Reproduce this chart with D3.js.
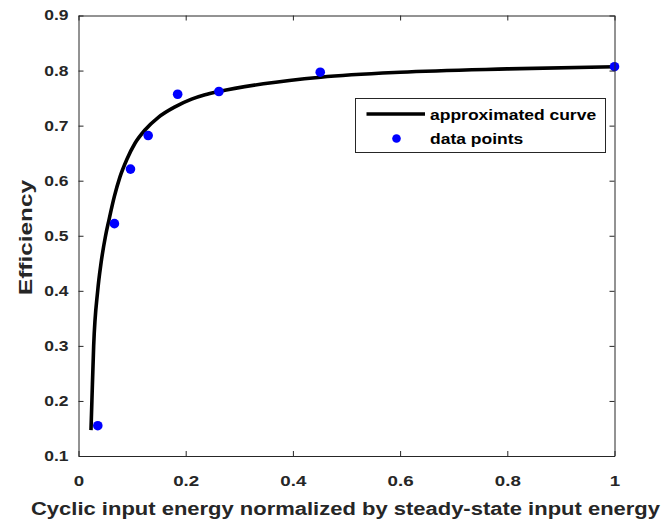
<!DOCTYPE html>
<html><head><meta charset="utf-8">
<script src="https://cdn.jsdelivr.net/npm/d3@7"></script>
<style>body{margin:0;background:#fff}svg{display:block}</style>
</head><body>
<svg id="c" width="662" height="523"></svg>
<script>
// ---- data ----
const xTicks = [0, 0.2, 0.4, 0.6, 0.8, 1];
const xTickLabels = ["0", "0.2", "0.4", "0.6", "0.8", "1"];
const yTicks = [0.1, 0.2, 0.3, 0.4, 0.5, 0.6, 0.7, 0.8, 0.9];
const yTickLabels = ["0.1", "0.2", "0.3", "0.4", "0.5", "0.6", "0.7", "0.8", "0.9"];
const curveX = [0.0233, 0.0250, 0.0283, 0.0358, 0.0420, 0.0505, 0.0569, 0.0668, 0.0774, 0.0899, 0.1054, 0.124, 0.149, 0.18, 0.211, 0.236, 0.262, 0.345, 0.452, 0.6, 0.8, 1.0];
const curveY = [0.147, 0.2, 0.3, 0.4, 0.45, 0.5, 0.529, 0.571, 0.607, 0.638, 0.668, 0.692, 0.715, 0.734, 0.748, 0.756, 0.762, 0.776, 0.788, 0.797, 0.803, 0.807];
const pointX = [0.036, 0.067, 0.097, 0.130, 0.185, 0.262, 0.451, 1.0];
const pointY = [0.155, 0.522, 0.621, 0.682, 0.757, 0.762, 0.797, 0.807];
const legendLabels = ["approximated curve", "data points"];
const xLabel = "Cyclic input energy normalized by steady-state input energy";
const yLabel = "Efficiency";

// ---- layout ----
const L = 78.5, R = 614.5, T = 15.5, B = 456;
const axisColor = "#262626";
const font = "'Liberation Sans', Arial, sans-serif";
const sx = 1.25; // horizontal stretch of the original image

const svg = d3.select("#c");
const x = d3.scaleLinear().domain([0, 1]).range([L, R]);
const y = d3.scaleLinear().domain([0.1, 0.9]).range([B, T]);

// curve
const curve = curveX.map((d, i) => [d, curveY[i]]);
svg.append("path")
  .datum(curve)
  .attr("fill", "none")
  .attr("stroke", "#000")
  .attr("stroke-width", 3.6)
  .attr("stroke-linejoin", "round")
  .attr("d", d3.line().x(d => x(d[0])).y(d => y(d[1])).curve(d3.curveMonotoneX));

// points
svg.append("g").selectAll("circle")
  .data(pointX.map((d, i) => [d, pointY[i]]))
  .join("circle")
  .attr("cx", d => x(d[0])).attr("cy", d => y(d[1]))
  .attr("r", 4.8).attr("fill", "#0000ff");

// axes
function styleAxis(g) {
  g.selectAll("path.domain").attr("stroke", axisColor).attr("stroke-width", 1);
  g.selectAll(".tick line").attr("stroke", axisColor);
  g.selectAll(".tick text").attr("fill", axisColor).attr("font-family", font).attr("font-weight", "bold");
}
const gB = svg.append("g").attr("transform", `translate(0,${B})`)
  .call(d3.axisBottom(x).tickValues(xTicks).tickFormat((d, i) => xTickLabels[i]).tickSizeInner(-5).tickSizeOuter(0).tickPadding(19));
styleAxis(gB);
gB.selectAll(".tick text").attr("font-size", 15).attr("transform", `scale(${sx},1)`);

const gT = svg.append("g").attr("transform", `translate(0,${T})`)
  .call(d3.axisTop(x).tickValues(xTicks).tickFormat("").tickSizeInner(-5).tickSizeOuter(0));
styleAxis(gT);

const gL = svg.append("g").attr("transform", `translate(${L},0)`)
  .call(d3.axisLeft(y).tickValues(yTicks).tickFormat((d, i) => yTickLabels[i]).tickSizeInner(-5).tickSizeOuter(0).tickPadding(8));
styleAxis(gL);
gL.selectAll(".tick text").attr("font-size", 14).attr("transform", `scale(${sx},1)`);

const gR = svg.append("g").attr("transform", `translate(${R},0)`)
  .call(d3.axisRight(y).tickValues(yTicks).tickFormat("").tickSizeInner(-5).tickSizeOuter(0));
styleAxis(gR);

// axis labels
svg.append("text")
  .attr("x", 31).attr("y", 515)
  .attr("font-family", font).attr("font-weight", "bold").attr("font-size", 18)
  .attr("fill", axisColor)
  .attr("textLength", 629).attr("lengthAdjust", "spacingAndGlyphs")
  .text(xLabel);

svg.append("text")
  .attr("transform", "translate(32,295) rotate(-90)")
  .attr("x", 0).attr("y", 0)
  .attr("font-family", font).attr("font-weight", "bold").attr("font-size", 19)
  .attr("fill", axisColor)
  .attr("textLength", 115).attr("lengthAdjust", "spacingAndGlyphs")
  .text(yLabel);

// legend
const lg = svg.append("g");
lg.append("rect").attr("x", 355.5).attr("y", 98.5).attr("width", 250).attr("height", 54)
  .attr("fill", "#fff").attr("stroke", axisColor).attr("stroke-width", 1);
lg.append("line").attr("x1", 366.5).attr("x2", 425).attr("y1", 114).attr("y2", 114)
  .attr("stroke", "#000").attr("stroke-width", 3.6);
lg.append("circle").attr("cx", 396.5).attr("cy", 138.5).attr("r", 4.3).attr("fill", "#0000ff");
legendLabels.forEach((t, i) => {
  lg.append("text")
    .attr("transform", `translate(430,${119.5 + i * 24.5}) scale(${sx},1)`)
    .attr("font-family", font).attr("font-weight", "bold").attr("font-size", 14)
    .attr("fill", "#000")
    .text(t);
});
</script>
</body></html>
